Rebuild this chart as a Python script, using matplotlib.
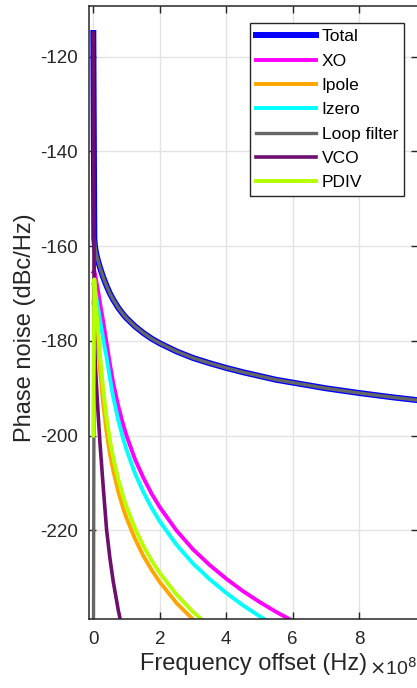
import numpy as np
import matplotlib
matplotlib.use('Agg')
import matplotlib.pyplot as plt
from matplotlib.ticker import FuncFormatter

plt.rcParams['font.family'] = ['Liberation Sans', 'DejaVu Sans']
plt.rcParams['axes.unicode_minus'] = False

# frequency offset, in units of 1e8 Hz (first point is ~0 Hz)
freq_e8 = [0.000001, 0.03, 0.06, 0.1, 0.15, 0.2, 0.3, 0.4, 0.5, 0.6, 0.75, 0.9, 1.0, 1.25, 1.5, 1.75,
           2.0, 2.5, 3.0, 3.5, 4.0, 4.5, 5.0, 5.5, 6.0, 7.0, 8.0, 9.0, 10.0]

# phase noise, dBc/Hz
total = [-115, -158.5, -160.5, -162, -163.3, -164.5, -166.6, -168.4, -170, -171.3, -173, -174.4, -175.2, -176.9, -178.3, -179.5,
         -180.5, -182.2, -183.6, -184.7, -185.7, -186.6, -187.4, -188.2, -188.8, -190, -191, -191.9, -192.7]
xo = [-165.5, -165.2, -166.2, -167.8, -169.8, -172, -176, -180.5, -184.9, -188.9, -193.7, -197.7, -200, -204.9, -208.8, -212.2,
      -215.1, -220, -224, -227.3, -230.2, -232.8, -235.1, -237.2, -239.1, -242.4, -245.3, -247.9, -250.2]
ipole = [-172, -170, -172, -176, -181, -186, -193.5, -199.3, -203.9, -207.4, -211.8, -215.4, -217.4, -221.7, -225.3, -228.3,
         -230.9, -235.3, -238.8, -241.8, -244.4, -246.7, -248.8, -250.6, -252.3, -255.3, -257.9, -260.2, -262.3]
izero = [-168, -168.5, -169.5, -171.2, -173.3, -175.5, -179.7, -183.5, -187.9, -191.9, -196.7, -200.7, -203, -207.9, -211.8, -215.2,
         -218.1, -223, -227, -230.3, -233.2, -235.8, -238.1, -240.2, -242.1, -245.4, -248.3, -250.9, -253.2]
loop_filter = [-260, -158.5, -160.5, -162, -163.3, -164.5, -166.6, -168.4, -170, -171.3, -173, -174.4, -175.2, -176.9, -178.3, -179.5,
               -180.5, -182.2, -183.6, -184.7, -185.7, -186.6, -187.4, -188.2, -188.8, -190, -191, -191.9, -192.7]
vco = [-115, -178, -185, -190, -196, -201.5, -211, -219.9, -225.9, -230.8, -236.8, -241.8, -244.6, -250.6, -255.5, -259.7,
       -263.3, -269.3, -274.3, -278.4, -282, -285.2, -288, -290.6, -293, -297.1, -300.7, -303.9, -306.8]
pdiv = [-200, -167, -170, -174, -178.5, -183, -190.5, -196.3, -201, -204.7, -209.2, -212.9, -215, -219.5, -223.2, -226.3,
        -229, -233.5, -237.2, -240.3, -243, -245.4, -247.5, -249.4, -251.2, -254.3, -257, -259.4, -261.5]

f_hz = np.array(freq_e8)*1e8

fig = plt.figure(figsize=(4.17, 6.88), dpi=100)
ax = fig.add_axes([0.2127, 0.0996, 0.789, 0.8917])

ax.plot(f_hz, total, c='#0000ff', lw=4.3, label='Total')
ax.plot(f_hz, xo, c='#ff00ff', lw=2.8, label='XO')
ax.plot(f_hz, ipole, c='#ffa500', lw=2.8, label='Ipole')
ax.plot(f_hz, izero, c='#00ffff', lw=2.8, label='Izero')
ax.plot(f_hz, loop_filter, c='#666666', lw=2.4, label='Loop filter')
ax.plot(f_hz, vco, c='#6e0f6e', lw=2.6, label='VCO')
ax.plot(f_hz, pdiv, c='#b4ff00', lw=2.8, label='PDIV')

ax.set_xlim(-0.139e8, 9.762e8)
ax.set_ylim(-238.8, -109.3)
ax.set_xticks(np.arange(0, 9, 2)*1e8)
ax.set_yticks(np.arange(-220, -119, 20))
ax.xaxis.set_major_formatter(FuncFormatter(lambda v, p: '%g' % (v/1e8)))

ax.grid(True, color='#e3e3e3', lw=1.0)
ax.set_axisbelow(True)
ax.tick_params(direction='in', length=5, width=1, colors='#262626', labelsize=13.5,
               top=True, right=True, pad=8)
for s in ax.spines.values():
    s.set_color('#262626')
    s.set_linewidth(1.1)

ax.set_xlabel('Frequency offset (Hz)', fontsize=17, color='#262626', labelpad=4)
ax.set_ylabel('Phase noise (dBc/Hz)', fontsize=17, color='#262626')
ax.yaxis.set_label_coords(-0.16, 0.475)
fig.text(369/417, 1-668/688, r'$\times$10$^{8}$', fontsize=14, color='#262626', va='center')

leg = ax.legend(loc='upper right', bbox_to_anchor=(404/417, 1-23/688), bbox_transform=fig.transFigure,
                fontsize=12.5, handlelength=3.5, handletextpad=0.3, labelspacing=0.53,
                borderpad=0.35, borderaxespad=0, fancybox=False, framealpha=1, edgecolor='#262626')
leg.get_frame().set_linewidth(1.0)

fig.savefig('out.png', dpi=100)
